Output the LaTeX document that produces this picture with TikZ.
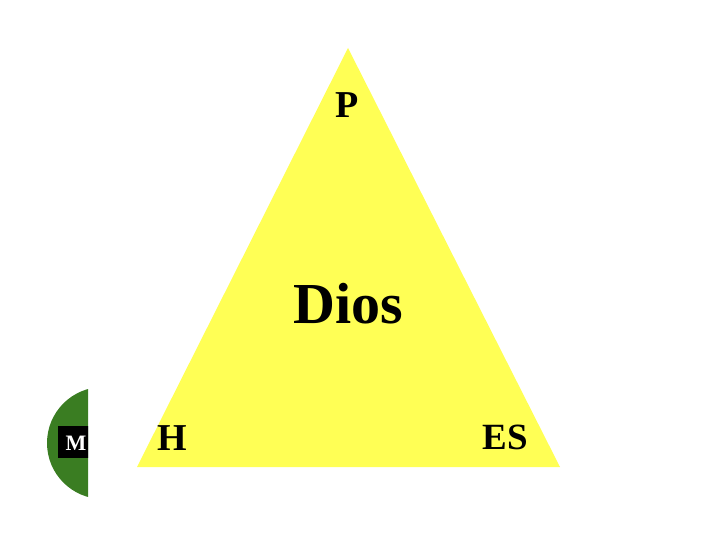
\documentclass[tikz,border=0pt]{standalone}
\usepackage{fontspec}
\setmainfont{Liberation Serif}
\definecolor{triyellow}{HTML}{FFFF55}
\definecolor{mgreen}{HTML}{3A7D22}
\tikzset{
  lbl/.style={font=\bfseries, text=black, inner sep=0pt, anchor=base},
}
\begin{document}
\begin{tikzpicture}[x=1pt,y=-1pt]
\useasboundingbox (0,0) rectangle (720,540);
% triangle
\coordinate (top) at (348,48);
\coordinate (bl) at (137,467);
\coordinate (br) at (560,467);
\fill[triyellow] (top) -- (br) -- (bl) -- cycle;
% labels
\node[lbl, font=\bfseries\fontsize{38}{38}\selectfont] (P) at (347,118) {P};
\node[lbl, font=\bfseries\fontsize{58}{58}\selectfont] (Dios) at (348,323) {Dios};
\node[lbl, font=\bfseries\fontsize{38}{38}\selectfont] (H) at (172,450) {H};
\node[lbl, font=\bfseries\fontsize{37}{37}\selectfont] (ES) at (505,449) {ES};
% green half disc with M
\begin{scope}
  \clip (0,380) rectangle (88,510);
  \fill[mgreen] (103,443) circle[radius=56];
  \fill[black] (58,426) rectangle (95,458);
  \node[lbl, text=white, font=\bfseries\fontsize{22}{22}\selectfont] (M) at (76,450) {M};
\end{scope}
\end{tikzpicture}
\end{document}
